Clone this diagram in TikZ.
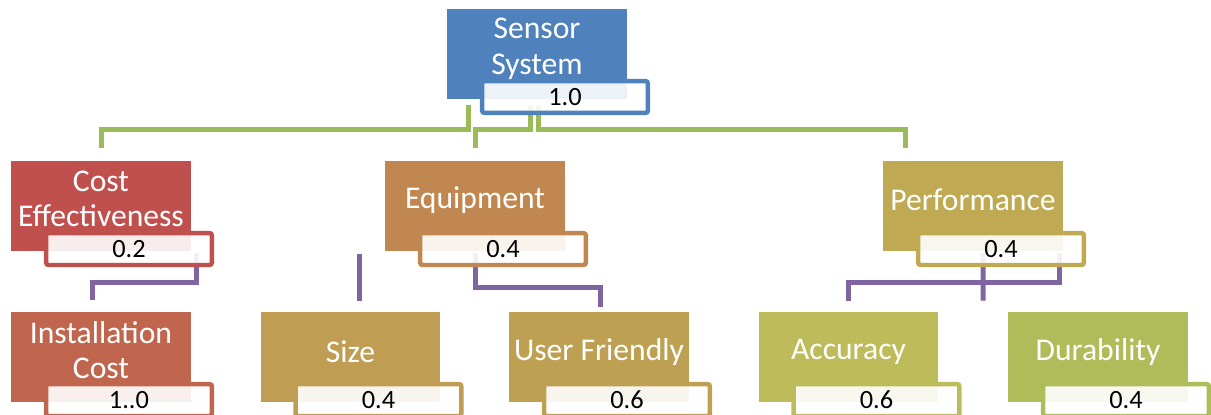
\documentclass[tikz,border=0pt]{standalone}
\usepackage{fontspec}
\setmainfont{Carlito}
\usetikzlibrary{positioning}

\definecolor{sensorblue}{HTML}{4F81BD}
\definecolor{costred}{HTML}{C0504D}
\definecolor{equipbrown}{HTML}{C08850}
\definecolor{perfgold}{HTML}{BFAA53}
\definecolor{instred}{HTML}{C0664F}
\definecolor{sizegold}{HTML}{BF9D52}
\definecolor{usergold}{HTML}{BEA053}
\definecolor{accuolive}{HTML}{BEBC5A}
\definecolor{duragreen}{HTML}{AFBC5A}
\definecolor{linkgreen}{HTML}{9BBB59}
\definecolor{linkpurple}{HTML}{8064A2}

\tikzset{
  mainbox/.style={rectangle, minimum width=3.6cm, minimum height=1.8cm, inner sep=0pt},
  maintext/.style={text=white, align=center, font=\fontsize{18}{20.3}\selectfont},
  valbox/.style={rectangle, rounded corners=1.5pt, line width=0.09cm, fill=white,
    fill opacity=0.9, text opacity=1, minimum width=3.32cm, minimum height=0.64cm,
    inner sep=0pt, font=\fontsize{15}{18}\selectfont},
  lvlone/.style={draw=linkgreen, line width=0.1cm},
  lvltwo/.style={draw=linkpurple, line width=0.1cm}
}

\begin{document}
\begin{tikzpicture}[x=0.02cm,y=-0.02cm]
  \useasboundingbox (0,0) rectangle (1211,414);
  \clip (0,0) rectangle (1211,414);

  % boxes
  \node[mainbox, fill=sensorblue] (sensor) at (537,54) {};
  \node[mainbox, fill=costred] (cost) at (101,206) {};
  \node[mainbox, fill=equipbrown] (equip) at (475,206) {};
  \node[mainbox, fill=perfgold] (perf) at (973,206) {};
  \node[mainbox, fill=instred] (inst) at (101,357) {};
  \node[mainbox, fill=sizegold] (size) at (350.5,357) {};
  \node[mainbox, fill=usergold] (user) at (599,357) {};
  \node[mainbox, fill=accuolive] (accu) at (848.5,357) {};
  \node[mainbox, fill=duragreen] (dura) at (1098,357) {};

  % first level
  \draw[lvlone] ([xshift=-1.38cm,yshift=-0.12cm]sensor.south) -- ++(0,24) -| ([yshift=0.26cm]cost.north);
  \draw[lvlone] ([xshift=-0.14cm,yshift=-0.12cm]sensor.south) -- ++(0,24) -| ([yshift=0.26cm]equip.north);
  \draw[lvlone] ([xshift=0.02cm,yshift=-0.12cm]sensor.south) -- ++(0,24) -| ([xshift=-1.36cm,yshift=0.26cm]perf.north);

  % second level
  \draw[lvltwo] ([xshift=1.92cm,yshift=-0.04cm]cost.south) -- ++(0,29) -| ([xshift=-0.18cm,yshift=0.24cm]inst.north);
  \draw[lvltwo] ([xshift=0.17cm,yshift=1.16cm]size.north) -- ([xshift=0.17cm,yshift=0.22cm]size.north);
  \draw[lvltwo] ([yshift=-0.04cm]equip.south) -- ++(0,34) -| ([xshift=0.02cm,yshift=0.1cm]user.north);
  \draw[lvltwo] ([xshift=1.74cm,yshift=-0.04cm]perf.south) -- ++(0,29) -| ([yshift=0.22cm]accu.north);
  \draw[lvltwo] ([xshift=0.2cm,yshift=-0.04cm]perf.south) -- ([xshift=-2.3cm,yshift=0.22cm]dura.north);

  % weights
  \node[valbox, draw=sensorblue] (sensorval) at ([xshift=0.56cm,yshift=-0.86cm]sensor.center) {1.0};
  \node[valbox, draw=costred] (costval) at ([xshift=0.56cm,yshift=-0.86cm]cost.center) {0.2};
  \node[valbox, draw=equipbrown] (equipval) at ([xshift=0.56cm,yshift=-0.86cm]equip.center) {0.4};
  \node[valbox, draw=perfgold] (perfval) at ([xshift=0.56cm,yshift=-0.86cm]perf.center) {0.4};
  \node[valbox, draw=instred] (instval) at ([xshift=0.56cm,yshift=-0.86cm]inst.center) {1..0};
  \node[valbox, draw=sizegold] (sizeval) at ([xshift=0.56cm,yshift=-0.86cm]size.center) {0.4};
  \node[valbox, draw=usergold] (userval) at ([xshift=0.56cm,yshift=-0.86cm]user.center) {0.6};
  \node[valbox, draw=accuolive] (accuval) at ([xshift=0.56cm,yshift=-0.86cm]accu.center) {0.6};
  \node[valbox, draw=duragreen] (duraval) at ([xshift=0.56cm,yshift=-0.86cm]dura.center) {0.4};

  % labels
  \node[maintext] (sensortxt) at ([yshift=0.1cm]sensor.center) {Sensor\\System};
  \node[maintext] (costtxt) at ([yshift=0.14cm]cost.center) {Cost\\Effectiveness};
  \node[maintext] (equiptxt) at ([yshift=0.12cm]equip.center) {Equipment};
  \node[maintext] (perftxt) at ([yshift=0.12cm]perf.center) {Performance};
  \node[maintext] (insttxt) at ([yshift=0.14cm]inst.center) {Installation\\Cost};
  \node[maintext] (sizetxt) at ([yshift=0.1cm]size.center) {Size};
  \node[maintext] (usertxt) at ([yshift=0.1cm]user.center) {User Friendly};
  \node[maintext] (accutxt) at ([yshift=0.1cm]accu.center) {Accuracy};
  \node[maintext] (duratxt) at ([yshift=0.1cm]dura.center) {Durability};
\end{tikzpicture}
\end{document}
